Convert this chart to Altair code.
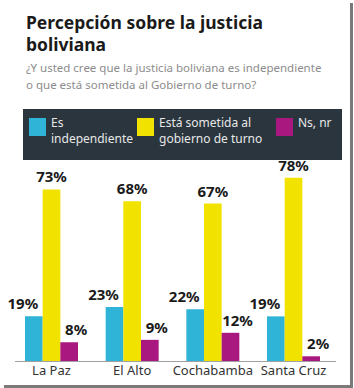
import altair as alt
import pandas as pd

cities = ["La Paz", "El Alto", "Cochabamba", "Santa Cruz"]
series = ["Es independiente", "Está sometida al gobierno de turno", "Ns, nr"]
legend_line1 = ["Es", "Está sometida al", "Ns, nr"]
legend_line2 = ["independiente", "gobierno de turno", ""]
colors = ["#2fb3d6", "#f2e200", "#a8187f"]
independiente = [19, 23, 22, 19]
sometida = [73, 68, 67, 78]
nsnr = [8, 9, 12, 2]

title_text = "Percepción sobre la justicia\nboliviana"
subtitle_text = "¿Y usted cree que la justicia boliviana es independiente\no que está sometida al Gobierno de turno?"

FONT = "Noto Sans"

rows = []
for i, c in enumerate(cities):
    for s, vals in zip(series, [independiente, sometida, nsnr]):
        rows.append({"city": c, "serie": s, "value": vals[i], "label": f"{vals[i]}%"})
df = pd.DataFrame(rows)

xenc = alt.X("city:N", scale=alt.Scale(domain=cities, range=[25, 320], paddingInner=0.343, paddingOuter=0), axis=None)
xoff = alt.XOffset("serie:N", scale=alt.Scale(domain=series, paddingInner=0, paddingOuter=0))
yenc = alt.Y("value:Q", scale=alt.Scale(domain=[0, 100], range=[361, 126]), axis=None)
cenc = alt.Color("serie:N", scale=alt.Scale(domain=series, range=colors), legend=None)

base = alt.Chart(df)
bars = base.mark_bar().encode(x=xenc, xOffset=xoff, y=yenc, color=cenc)

label_dx = [-11, 0, 7]
label_layers = []
for s, dx in zip(series, label_dx):
    label_layers.append(
        base.transform_filter(alt.datum.serie == s).mark_text(
            font=FONT, fontWeight="bold", fontSize=15, color="#1a1a1a", dy=-7, dx=dx,
            baseline="alphabetic", align="center"
        ).encode(x=xenc, xOffset=xoff, y=yenc, text="label:N")
    )

city_df = pd.DataFrame({"city": cities})
xlabels = alt.Chart(city_df).mark_text(font=FONT, fontSize=13, color="#333333", baseline="alphabetic").encode(
    x=xenc, y=alt.value(375), text="city:N")

axis_line = alt.Chart(city_df).mark_rule(color="#a0a0a0", strokeWidth=1).encode(
    x=alt.value(15), x2=alt.value(336), y=alt.value(361.5))

title = alt.Chart(pd.DataFrame({"t": [title_text]})).mark_text(
    font=FONT, fontWeight="bold", fontSize=17.5, color="#1a1a1a", align="left", baseline="alphabetic",
    lineBreak="\n", lineHeight=22).encode(x=alt.value(26), y=alt.value(29), text="t:N")

subtitle = alt.Chart(pd.DataFrame({"t": [subtitle_text]})).mark_text(
    font=FONT, fontSize=11.5, color="#8c8c8c", align="left", baseline="alphabetic",
    lineBreak="\n", lineHeight=17).encode(x=alt.value(26), y=alt.value(72), text="t:N")

legend_box = alt.Chart(city_df).mark_rect(color="#2a353e").encode(
    x=alt.value(23), x2=alt.value(342), y=alt.value(109), y2=alt.value(160))

legend_x = [29, 137, 276]
legend_layers = []
for l1, l2, col, lx in zip(legend_line1, legend_line2, colors, legend_x):
    d = pd.DataFrame({"a": [l1], "b": [l2]})
    legend_layers.append(alt.Chart(d).mark_rect(color=col).encode(
        x=alt.value(lx), x2=alt.value(lx + 17), y=alt.value(118), y2=alt.value(136)))
    legend_layers.append(alt.Chart(d).mark_text(
        font=FONT, fontSize=12, color="#e8e8e8", align="left", baseline="alphabetic").encode(
        x=alt.value(lx + 22), y=alt.value(127), text="a:N"))
    if l2:
        legend_layers.append(alt.Chart(d).mark_text(
            font=FONT, fontSize=12, color="#e8e8e8", align="left", baseline="alphabetic").encode(
            x=alt.value(lx + 22), y=alt.value(143), text="b:N"))

shadow_r = alt.Chart(city_df).mark_rule(color="#7a7a7a", strokeWidth=3).encode(
    x=alt.value(351.5), y=alt.value(3), y2=alt.value(387))
shadow_b = alt.Chart(city_df).mark_rule(color="#7a7a7a", strokeWidth=3).encode(
    x=alt.value(4), x2=alt.value(353), y=alt.value(386.5))

chart = alt.layer(
    title, subtitle, legend_box, *legend_layers, bars, *label_layers, xlabels, axis_line, shadow_r, shadow_b
).properties(
    width=354, height=388, autosize=alt.AutoSizeParams(type="none"), padding=0, background="white"
).configure_view(stroke=None)

chart.save("out.html", embed_options={"renderer": "svg", "actions": False})
